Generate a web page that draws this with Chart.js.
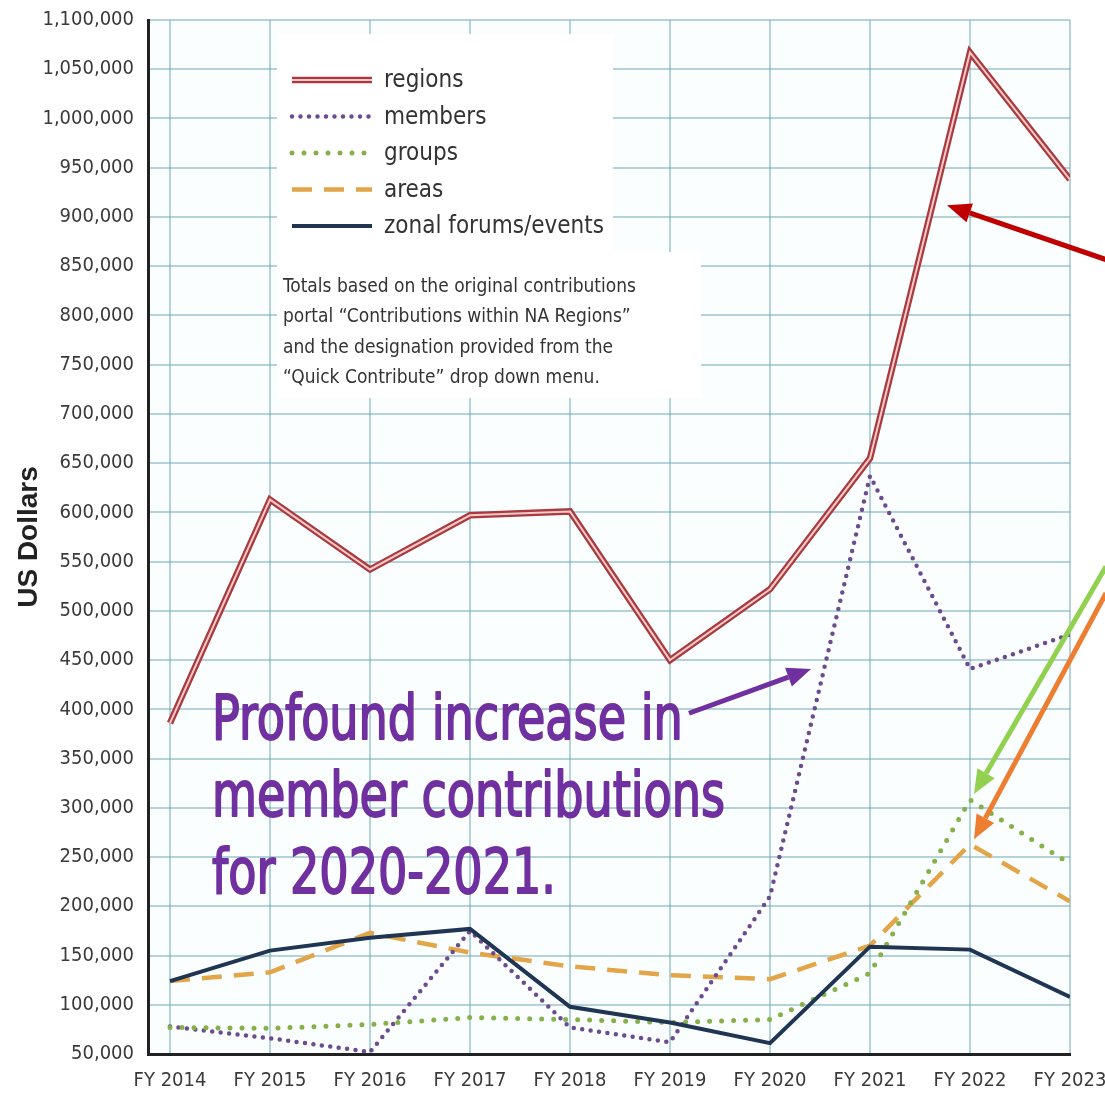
<!DOCTYPE html>
<html>
<head>
<meta charset="utf-8">
<title>Contributions by type</title>
<script src="https://cdn.jsdelivr.net/npm/chart.js@4.4.1/dist/chart.umd.min.js"></script>
<style>
  html, body { margin: 0; padding: 0; background: #fff; }
  canvas { display: block; }
</style>
</head>
<body>
<canvas id="chart" width="1105" height="1094"></canvas>
<script>
// Fiscal years along the bottom
const years = ['FY 2014', 'FY 2015', 'FY 2016', 'FY 2017', 'FY 2018',
               'FY 2019', 'FY 2020', 'FY 2021', 'FY 2022', 'FY 2023'];

// US dollars per contribution type
const regions = [386000, 613000, 542000, 597000, 601000, 450000, 522000, 655000, 1067000, 938000];
const members = [78000, 66000, 52000, 175000, 77000, 62000, 210000, 637000, 441000, 476000];
const groups  = [77000, 76000, 80000, 87000, 85000, 82000, 85000, 132000, 308000, 243000];
const areas   = [124000, 133000, 173000, 153000, 139000, 130000, 126000, 160000, 263000, 205000];
const zonal   = [124000, 155000, 168000, 177000, 98000, 82000, 61000, 159000, 156000, 108000];

// Note text under the legend
const noteLines = [
  'Totals based on the original contributions',
  'portal \u201CContributions within NA Regions\u201D',
  'and the designation provided from the',
  '\u201CQuick Contribute\u201D drop down menu.'
];

// Callout text
const calloutLines = ['Profound increase in', 'member contributions', 'for 2020-2021.'];

const NARROW = "'Liberation Sans Narrow', 'Arial Narrow', 'DejaVu Sans Condensed', 'Liberation Sans', sans-serif";

const toPoints = arr => arr.map((v, i) => ({ x: i, y: v }));

// Arrows in data units (x = year index, y = dollars)
const arrows = [
  { from: [5.19, 396000], to: [6.41, 441000], color: '#7030a0' },
  { from: [9.38, 856000], to: [7.77, 912000], color: '#c00000' },
  { from: [9.36, 545000], to: [8.04, 314000], color: '#92d050' },
  { from: [9.36, 518000], to: [8.04, 268000], color: '#ed7d31' }
];

function drawArrow(ctx, x1, y1, x2, y2, color) {
  const ang = Math.atan2(y2 - y1, x2 - x1);
  const headLen = 24, headW = 10;
  const bx = x2 - headLen * Math.cos(ang), by = y2 - headLen * Math.sin(ang);
  ctx.save();
  ctx.strokeStyle = color;
  ctx.fillStyle = color;
  ctx.lineWidth = 5;
  ctx.beginPath();
  ctx.moveTo(x1, y1);
  ctx.lineTo(bx, by);
  ctx.stroke();
  ctx.beginPath();
  ctx.moveTo(x2, y2);
  ctx.lineTo(bx + headW * Math.sin(ang), by - headW * Math.cos(ang));
  ctx.lineTo(bx - headW * Math.sin(ang), by + headW * Math.cos(ang));
  ctx.closePath();
  ctx.fill();
  ctx.restore();
}

// legend swatch, uses the dataset's own style
function drawSwatch(ctx, ds, x1, x2, y) {
  ctx.save();
  ctx.lineCap = ds.borderCapStyle || 'butt';
  ctx.setLineDash(ds.borderDash || []);
  ctx.strokeStyle = ds.borderColor;
  ctx.lineWidth = ds.borderWidth;
  ctx.beginPath();
  ctx.moveTo(x1, y);
  ctx.lineTo(x2, y);
  ctx.stroke();
  if (ds.innerColor) {
    ctx.setLineDash([]);
    ctx.strokeStyle = ds.innerColor;
    ctx.lineWidth = 2;
    ctx.beginPath();
    ctx.moveTo(x1, y);
    ctx.lineTo(x2, y);
    ctx.stroke();
  }
  ctx.restore();
}

const plotBackground = {
  id: 'plotBackground',
  beforeDraw(chart) {
    const { ctx, chartArea: a } = chart;
    ctx.save();
    ctx.fillStyle = '#fafeff';
    ctx.fillRect(a.left, a.top, a.right - a.left, a.bottom - a.top);
    ctx.restore();
  }
};

const legendBox = {
  id: 'legendBox',
  beforeDatasetsDraw(chart) {
    const { ctx, chartArea: a } = chart;
    const L = a.left, T = a.top;
    ctx.save();
    ctx.fillStyle = '#ffffff';
    ctx.fillRect(L + 129, T + 14, 336, 218);
    ctx.fillRect(L + 129, T + 232, 424, 146);

    const items = chart.data.datasets.filter(d => !d.hideInLegend);
    ctx.font = '24px ' + NARROW;
    ctx.fillStyle = '#333';
    ctx.textBaseline = 'middle';
    items.forEach((ds, i) => {
      const y = T + 60 + i * 36.5;
      drawSwatch(ctx, ds, L + 144, L + 224, y);
      ctx.fillText(ds.label, L + 236, y + 1);
    });

    ctx.font = '19px ' + NARROW;
    noteLines.forEach((line, i) => {
      ctx.fillText(line, L + 135, T + 267 + i * 30.5);
    });
    ctx.restore();
  }
};

const callouts = {
  id: 'callouts',
  afterDatasetsDraw(chart) {
    const { ctx, scales: { x, y } } = chart;
    ctx.save();
    // callout text, fitted to the width of the original condensed face
    ctx.font = '62px ' + NARROW;
    ctx.fillStyle = '#7030a0';
    ctx.strokeStyle = '#7030a0';
    ctx.lineWidth = 1.8;
    ctx.lineJoin = 'round';
    ctx.textBaseline = 'alphabetic';
    const sx = 513 / ctx.measureText(calloutLines[1]).width;
    const tx = x.getPixelForValue(0.42);
    const ty = y.getPixelForValue(370000);
    calloutLines.forEach((line, i) => {
      ctx.save();
      ctx.translate(tx, ty + i * 77);
      ctx.scale(sx, 1);
      ctx.fillText(line, 0, 0);
      ctx.strokeText(line, 0, 0);
      ctx.restore();
    });
    ctx.restore();

    arrows.forEach(a => {
      drawArrow(ctx,
        x.getPixelForValue(a.from[0]), y.getPixelForValue(a.from[1]),
        x.getPixelForValue(a.to[0]), y.getPixelForValue(a.to[1]), a.color);
    });
  }
};

new Chart(document.getElementById('chart'), {
  type: 'line',
  data: {
    datasets: [
      // inner pale stroke of the double "regions" line
      { label: 'regions-inner', hideInLegend: true, data: toPoints(regions),
        borderColor: '#f7c9c9', borderWidth: 2, pointRadius: 0, order: 0 },
      { label: 'regions', data: toPoints(regions), innerColor: '#f7c9c9',
        borderColor: '#a93a3e', borderWidth: 6.5, pointRadius: 0, order: 1 },
      { label: 'members', data: toPoints(members),
        borderColor: '#6e4a8e', borderWidth: 4.5, borderDash: [0, 8.5], borderCapStyle: 'round',
        pointRadius: 0, order: 4 },
      { label: 'groups', data: toPoints(groups),
        borderColor: '#86b04a', borderWidth: 5, borderDash: [0, 12], borderCapStyle: 'round',
        pointRadius: 0, order: 3 },
      { label: 'areas', data: toPoints(areas),
        borderColor: '#e2a548', borderWidth: 4.5, borderDash: [20, 12],
        pointRadius: 0, order: 5 },
      { label: 'zonal forums/events', data: toPoints(zonal),
        borderColor: '#1f3552', borderWidth: 4, pointRadius: 0, order: 2 }
    ]
  },
  options: {
    responsive: false,
    animation: false,
    layout: { padding: { top: 20, right: 35, left: 0, bottom: 0 } },
    plugins: {
      legend: { display: false },
      tooltip: { enabled: false }
    },
    scales: {
      x: {
        type: 'linear',
        min: -0.22,
        max: 9,
        afterFit: s => { s.height = 40; s.paddingLeft = 0; s.paddingRight = 0; },
        ticks: {
          stepSize: 1,
          includeBounds: false,
          autoSkip: false,
          maxRotation: 0,
          padding: 15,
          color: '#3a3a3a',
          font: { family: NARROW, size: 20 },
          callback: v => years[v] ?? ''
        },
        grid: { color: 'rgba(110,165,180,0.5)', lineWidth: 2, drawTicks: false },
        border: { color: '#222', width: 3 }
      },
      y: {
        min: 50000,
        max: 1100000,
        afterFit: s => { s.width = 148; s.paddingTop = 0; s.paddingBottom = 0; },
        ticks: {
          stepSize: 50000,
          padding: 14,
          color: '#3a3a3a',
          font: { family: NARROW, size: 20 },
          callback: v => v.toLocaleString('en-US')
        },
        title: {
          display: true,
          text: 'US Dollars',
          color: '#222',
          font: { family: "'Liberation Sans', Arial, sans-serif", size: 28, weight: 'bold' },
          padding: { top: 12, bottom: 0 }
        },
        grid: { color: 'rgba(110,165,180,0.5)', lineWidth: 2, drawTicks: false },
        border: { color: '#222', width: 3 }
      }
    }
  },
  plugins: [plotBackground, legendBox, callouts]
});
</script>
</body>
</html>
